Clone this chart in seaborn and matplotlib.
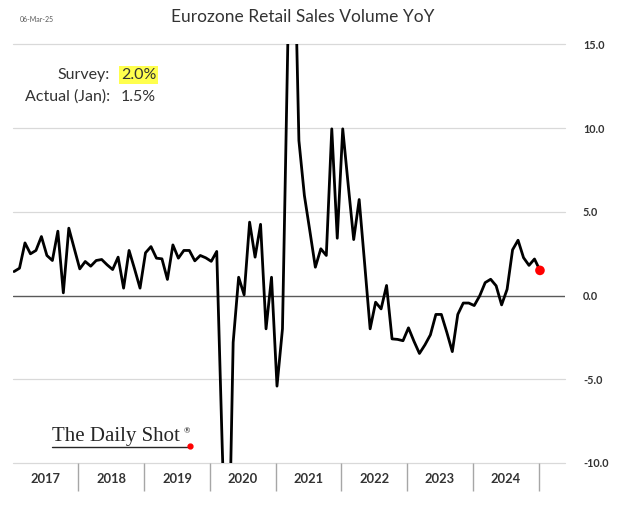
import pandas as pd
import matplotlib
matplotlib.use('Agg')
import matplotlib.pyplot as plt
import seaborn as sns
from matplotlib.lines import Line2D

# year labels along the bottom
years = ['2017', '2018', '2019', '2020', '2021', '2022', '2023', '2024']

# monthly YoY % change, Jan 2017 .. Jan 2025
yoy = [1.43, 1.63, 3.14, 2.49, 2.69, 3.52, 2.39, 2.09, 3.84, 0.16, 4.02, 2.80,
       1.59, 2.03, 1.75, 2.09, 2.15, 1.83, 1.55, 2.29, 0.44, 2.69, 1.59, 0.44,
       2.55, 2.92, 2.23, 2.19, 0.96, 3.02, 2.23, 2.69, 2.69, 2.07, 2.39, 2.25,
       2.04, 2.63, -9.0, -19.6, -2.8, 1.09, 0.04, 4.38, 2.29, 4.25, -1.99, 1.09,
       -5.41, -1.99, 15.5, 24.0, 9.25, 5.97, 3.85, 1.69, 2.79, 2.39, 9.95, 3.42,
       9.95, 6.6, 3.34, 5.73, 1.9, -1.99, -0.40, -0.80, 0.60, -2.59, -2.62, -2.70,
       -1.93, -2.73, -3.46, -2.95, -2.35, -1.13, -1.13, -2.2, -3.35, -1.13, -0.45, -0.45,
       -0.6, -0.02, 0.77, 0.97, 0.58, -0.56, 0.37, 2.73, 3.30, 2.26, 1.80, 2.18,
       1.5]

survey = '2.0%'
actual = '1.5%'

months = list(range(len(yoy)))
df = pd.DataFrame({'month': months, 'yoy': yoy})

sns.set_style('white')
plt.rcParams['font.family'] = ['Lato', 'DejaVu Sans']

fig = plt.figure(figsize=(6.2, 5.05), dpi=100)
ax = fig.add_axes([0.0205, 0.0832, 0.8907, 0.8291])

# grid + zero line
for v in [-10, -5, 5, 10, 15]:
    ax.axhline(v, color='#d9d9d9', lw=0.9, zorder=0, clip_on=False)
ax.axhline(0, color='#595959', lw=1.0, zorder=1)

sns.lineplot(data=df, x='month', y='yoy', color='black', lw=2.0, ax=ax, zorder=3)
sns.scatterplot(x=[months[-1]], y=[yoy[-1]], color='#ff0000', s=48,
                edgecolor='none', zorder=5, ax=ax)

ax.set_ylim(-10, 15)
ax.set_xlim(-0.24, 100.56)
for s in ax.spines.values():
    s.set_visible(False)
ax.set_xlabel('')
ax.set_ylabel('')

# right-hand y labels
yt = [-10, -5, 0, 5, 10, 15]
ax.yaxis.tick_right()
ax.set_yticks(yt)
ax.set_yticklabels([f'{v:.1f}' for v in yt], fontweight='bold')
ax.tick_params(axis='y', which='both', left=False, right=False, length=0, pad=13,
               labelsize=7.8, labelcolor='#333333')

# year separators (major) and year labels (minor)
bounds = [12 * k - 0.25 for k in range(1, len(years) + 1)]
centers = [12 * k + 5.75 for k in range(len(years))]
ax.set_xticks(bounds)
ax.set_xticklabels([])
ax.set_xticks(centers, minor=True)
ax.set_xticklabels(years, minor=True, fontweight='bold')
ax.tick_params(axis='x', which='major', bottom=True, length=20, width=1.0,
               color='#a6a6a6', direction='out')
ax.tick_params(axis='x', which='minor', bottom=True, length=0, pad=7,
               labelsize=9.3, labelcolor='#333333')

# titles and notes
fig.text(303 / 620, 1 - 17 / 505, 'Eurozone Retail Sales Volume YoY', ha='center',
         va='center', fontsize=12.5, color='#333333')
fig.text(20 / 620, 1 - 19 / 505, '06-Mar-25', ha='left', va='center',
         fontsize=5, color='#595959')

fig.text(110 / 620, 1 - 75 / 505, 'Survey:', ha='right', va='center',
         fontsize=11.5, color='#333333')
fig.text(121 / 620, 1 - 75 / 505, survey, ha='left', va='center', fontsize=11.5,
         color='#333333', bbox=dict(facecolor='#ffff4d', edgecolor='none', pad=1.5))
fig.text(110 / 620, 1 - 97 / 505, 'Actual (Jan):', ha='right', va='center',
         fontsize=11.5, color='#333333')
fig.text(121 / 620, 1 - 97 / 505, actual, ha='left', va='center',
         fontsize=11.5, color='#333333')

# logo
fig.text(52 / 620, 1 - 441 / 505, 'The Daily Shot', family='Liberation Serif',
         fontsize=15, va='baseline', ha='left', color='#262626')
fig.text(184 / 620, 1 - 431 / 505, '®', fontsize=5.5, va='center', ha='left',
         color='#262626')
fig.add_artist(Line2D([52 / 620, 190 / 620], [1 - 446.5 / 505] * 2, lw=1.0,
                      color='#262626'))
fig.add_artist(Line2D([190 / 620], [1 - 445.5 / 505], marker='o', ms=3.5,
                      color='#ff0000', lw=0))

fig.savefig('out.png', dpi=100)
